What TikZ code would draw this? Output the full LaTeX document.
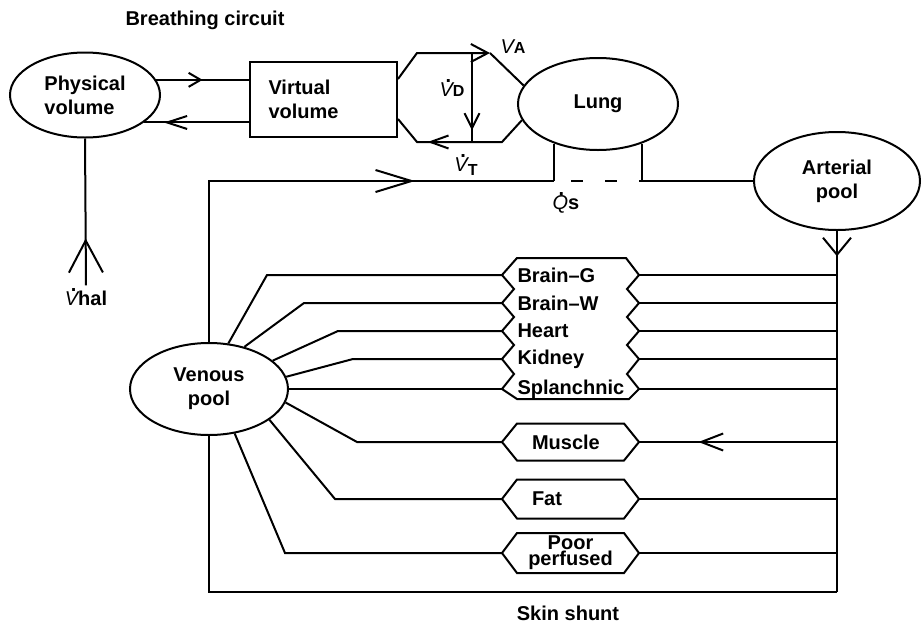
\documentclass[tikz,border=0pt]{standalone}
\usepackage{fontspec}
\setmainfont{Liberation Sans}
\usepackage{tikz}
\usetikzlibrary{shapes,arrows.meta,decorations.markings,positioning}

\newcommand{\fluxdot}[1]{\leavevmode\rlap{\hspace{0.3em}\raisebox{0.7em}{.}}{\mdseries\itshape #1}}

\begin{document}
\begin{tikzpicture}[
    x=0.5pt, y=-0.5pt,
    line width=1pt,
    every node/.style={font=\fontsize{10}{12}\selectfont\bfseries},
    pool/.style={ellipse, draw, align=center, inner sep=1pt},
    organ/.style={text width=53pt, inner xsep=7.25pt, inner ysep=1pt, align=left},
    lbl/.style={inner sep=1pt},
    flowmark/.style n args={3}{postaction={decorate}, decoration={markings, mark=at position #1 with {\arrow{Straight Barb[length=#2, width=#3]}}}}
]
\useasboundingbox (0,0) rectangle (923,622);

% Breathing circuit
\node (title) at (205,20) {Breathing circuit};
\node[pool, minimum width=75pt, minimum height=42.5pt, align=left] (phys) at (85,95) {Physical\\volume};
\node[draw, minimum width=73.5pt, minimum height=37.5pt, text width=55pt, align=left] (virt) at (323.5,99.5) {Virtual\\volume};
\node[pool, minimum width=80pt, minimum height=46pt] (lung) at (598,104) {Lung};

\draw[flowmark={0.5}{6pt}{7pt}] (phys.12) -- (phys.12 -| virt.west);
\draw[flowmark={0.81}{10pt}{6.5pt}] (virt.west |- phys.-25) -- (phys.-25);

\node[lbl] (vhal) at (86,297) {\fluxdot{V}hal};
\draw[flowmark={0.32}{16pt}{17pt}] (vhal.north) -- (phys.south);

% Dead space
\coordinate (dsTL) at (417,53);
\coordinate (dsTR) at (490,53);
\coordinate (dsBL) at (417,142);
\coordinate (dsBR) at (502,142);
\coordinate (vdTop) at (472,53);
\coordinate (vdBot) at (472,142);
\draw[-{Straight Barb[length=8.5pt,width=9pt]}] ([yshift=-9pt]virt.north east) -- (dsTL) -- (dsTR);
\draw (dsTR) -- (lung.166);
\draw[flowmark={0.72}{9pt}{6.5pt}] (lung.192) -- (dsBR) -- (dsBL) -- ([yshift=9.5pt]virt.south east);
\draw[flowmark={0.87}{7.5pt}{7.5pt}] (vdTop) -- (vdBot);
\node[lbl] (va) at (513,47) {{\mdseries\itshape V}{\footnotesize A}};
\node[lbl] (vd) at (452,88) {\fluxdot{V}{\footnotesize D}};
\node[lbl] (vt) at (466,165) {\fluxdot{V}\raisebox{-0.3ex}{\footnotesize T}};

% Pools
\node[pool, minimum width=83pt, minimum height=49pt] (art) at (837,181) {Arterial\\pool};
\node[pool, minimum width=79pt, minimum height=46pt] (ven) at (209,389) {Venous\\pool};

% Pulmonary shunt
\draw[flowmark={0.725}{18pt}{11pt}] (ven.north) |- (lung.222 |- art.west);
\draw (lung.222) -- (lung.222 |- art.west);
\draw[dash pattern=on 6pt off 11pt, dash phase=8.5pt] (lung.222 |- art.west) -- (lung.318 |- art.west);
\draw (lung.318) |- (art.west);
\node[lbl] (qs) at (566,203) {\fluxdot{Q}s};

% Tissue compartments
\node[organ] (brainG) at (570.5,275) {Brain--G};
\node[organ] (brainW) at (570.5,303) {Brain--W};
\node[organ] (heart) at (570.5,331) {Heart};
\node[organ] (kidney) at (570.5,359) {Kidney};
\node[organ] (splanch) at (570.5,389) {Splanchnic};
\node[organ, text width=38.5pt, inner xsep=14.5pt] (muscle) at (570.5,442) {Muscle};
\node[organ, text width=38.5pt, inner xsep=14.5pt] (fat) at (570.5,499) {Fat};
\node[organ, align=center, font=\fontsize{10}{8}\selectfont\bfseries] (poor) at (570.5,553) {Poor\\perfused};

\draw ([shift={(15,-17)}]brainG.west) -- (brainG.west) -- ([shift={(12,-14)}]brainW.west) -- (brainW.west)
  -- ([shift={(12,-14)}]heart.west) -- (heart.west) -- ([shift={(12,-14)}]kidney.west) -- (kidney.west)
  -- ([shift={(12,-15)}]splanch.west) -- (splanch.west) -- ([shift={(15,10)}]splanch.west)
  -- ([shift={(-10,10)}]splanch.east) -- (splanch.east) -- ([shift={(-12,-15)}]splanch.east) -- (kidney.east)
  -- ([shift={(-12,-14)}]kidney.east) -- (heart.east) -- ([shift={(-12,-14)}]heart.east) -- (brainW.east)
  -- ([shift={(-12,-14)}]brainW.east) -- (brainG.east) -- ([shift={(-13,-17)}]brainG.east) -- cycle;
\foreach \o/\h in {muscle/18.5, fat/19.5, poor/20}
  \draw ([shift={(15,-\h)}]\o.west) -- (\o.west) -- ([shift={(15,\h)}]\o.west)
    -- ([shift={(-15,\h)}]\o.east) -- (\o.east) -- ([shift={(-15,-\h)}]\o.east) -- cycle;

% Venous returns
\foreach \o/\a/\x in {brainG/67/267, brainW/50/304, heart/24/338, kidney/9/353, muscle/-10/357, fat/-27/335, poor/-60/285}
  \draw (ven.\a) -- (\x,0 |- \o.west) -- (\o.west);
\draw (ven.east) -- (splanch.west);

% Arterial supply
\coordinate (skin) at (520,592);
\draw[flowmark={0.07}{8.5pt}{14pt}] (art.south) -- (art.south |- skin);
\foreach \o in {brainG,brainW,heart,kidney,splanch,fat,poor}
  \draw (\o.east) -- (\o.east -| art.south);
\draw[flowmark={0.7}{11pt}{8.5pt}] (muscle.east -| art.south) -- (muscle.east);
\draw (art.south |- skin) -| (ven.south);
\node[lbl] (skinLbl) at (568,613) {Skin shunt};

\end{tikzpicture}
\end{document}
